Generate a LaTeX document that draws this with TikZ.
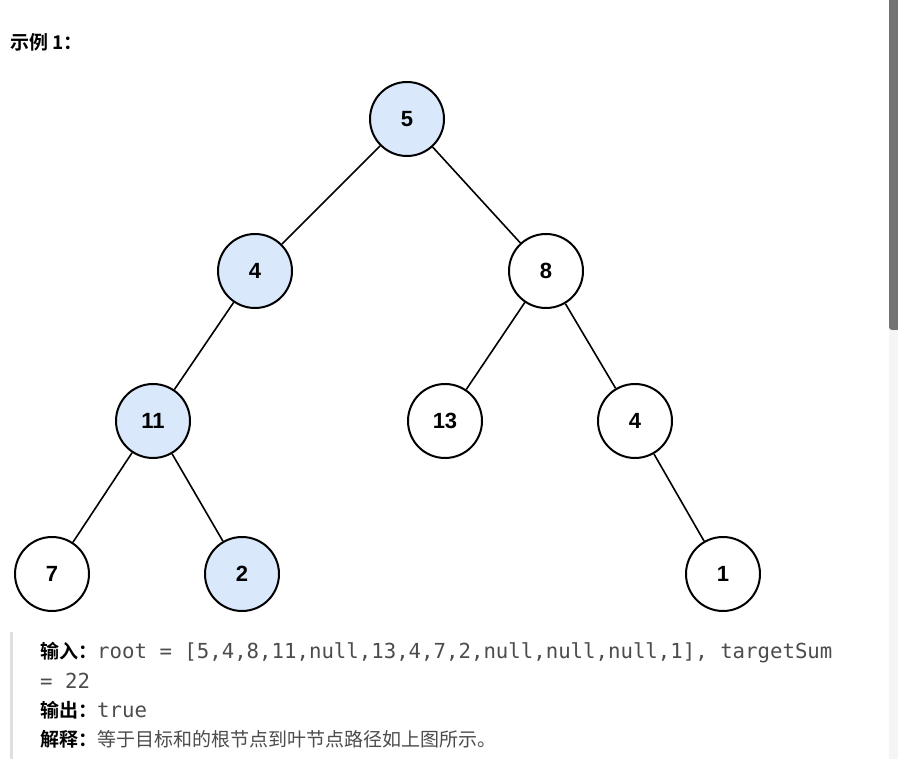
\documentclass[tikz,border=0pt]{standalone}
\usepackage{fontspec}
\setmainfont{Liberation Sans}
\newfontfamily\cjk{Noto Sans CJK SC}
\newfontfamily\cjkb{Noto Sans CJK SC Bold}
\newfontfamily\monof{DejaVu Sans Mono}
\definecolor{hlblue}{HTML}{DAE8FC}
\begin{document}
\begin{tikzpicture}[x=1pt,y=-1pt,
  tn/.style={circle,draw=black,line width=2pt,minimum size=74pt,inner sep=0pt,font=\fontsize{22}{26}\selectfont\bfseries,fill=white},
  hl/.style={tn,fill=hlblue},
  ed/.style={line width=1.6pt},
  txt/.style={anchor=base west,inner sep=0pt,font=\fontsize{19}{22}\selectfont},
  mono/.style={}]
\useasboundingbox (0,0) rectangle (898,759);
\fill[white] (0,0) rectangle (898,759);
\fill[gray!90!black,rounded corners=3pt] (889,-5) rectangle (900,330);
\fill[gray!8] (889,330) rectangle (898,759);
\fill[gray!25] (10,632) rectangle (13,759);
\node[txt,font=\fontsize{19}{22}\selectfont\cjkb] (title) at (10,50) {示例 1：};
\node[hl] (n5) at (407,119) {5};
\node[hl] (n4) at (255,271) {4};
\node[tn] (n8) at (546,271) {8};
\node[hl] (n11) at (153,421) {11};
\node[tn] (n13) at (445,421) {13};
\node[tn] (n4b) at (635,421) {4};
\node[tn] (n7) at (52,574) {7};
\node[hl] (n2) at (242,574) {2};
\node[tn] (n1) at (723,574) {1};
\foreach \a/\b in {n5/n4,n5/n8,n4/n11,n8/n13,n8/n4b,n11/n7,n11/n2,n4b/n1}
  \draw[ed] (\a) -- (\b);
\newcommand\mytt[1]{{\fontsize{20.7}{24}\monof\color{black!70}#1}}
\node[txt] (l1) at (40,658) {{\cjkb 输入：}\mytt{root = [5,4,8,11,null,13,4,7,2,null,null,null,1], targetSum}};
\node[txt] (l2) at (40,688) {\mytt{= 22}};
\node[txt] (l3) at (40,717) {{\cjkb 输出：}\mytt{true}};
\node[txt] (l4) at (40,746) {{\cjkb 解释：}{\cjk\color{black!70}等于目标和的根节点到叶节点路径如上图所示。}};
\end{tikzpicture}
\end{document}
